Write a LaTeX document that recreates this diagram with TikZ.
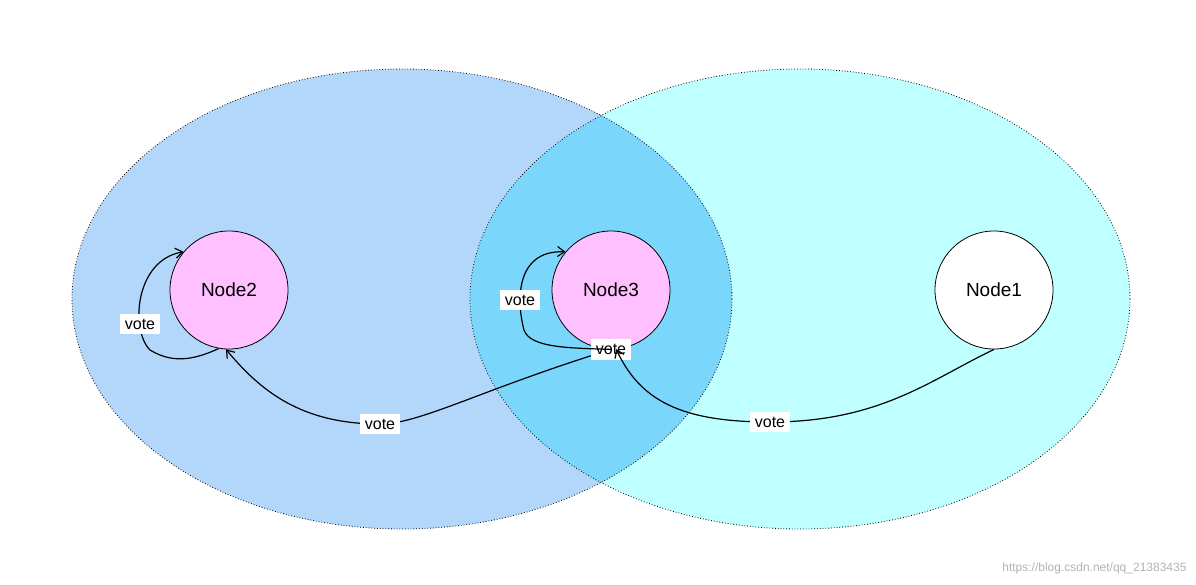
\documentclass[tikz,border=0pt]{standalone}
\usepackage{fontspec}
\setmainfont{Liberation Sans}
\usetikzlibrary{arrows.meta}
\definecolor{lblue}{HTML}{B3D7FB}
\definecolor{lcyan}{HTML}{C0FFFF}
\definecolor{mblue}{HTML}{7AD7FB}
\definecolor{pinkn}{HTML}{FFC0FF}
\tikzset{
 node/.style={circle,draw,thick,minimum size=118pt,inner sep=0pt,font=\fontsize{19}{22}\selectfont},
 lab/.style={fill=white,inner sep=5pt,font=\fontsize{16}{19}\selectfont},
 edge/.style={very thick,-{Straight Barb[length=7pt,width=10pt]}},
 reg/.style={draw,dotted,thick}
}
\begin{document}
\begin{tikzpicture}[x=1pt,y=-1pt]
\useasboundingbox (0,0) rectangle (1196,584);
\fill[lblue] (402,299) ellipse [x radius=330,y radius=230];
\fill[lcyan] (800,299) ellipse [x radius=330,y radius=230];
\begin{scope}
\clip (402,299) ellipse [x radius=330,y radius=230];
\fill[mblue] (800,299) ellipse [x radius=330,y radius=230];
\end{scope}
\draw[reg] (402,299) ellipse [x radius=330,y radius=230];
\draw[reg] (800,299) ellipse [x radius=330,y radius=230];
\node[node,fill=pinkn] (n2) at (229,290) {Node2};
\node[node,fill=pinkn] (n3) at (611,290) {Node3};
\node[node,fill=white] (n1) at (994,290) {Node1};
\draw[edge] (n3.-90) .. controls (480,390) and (420,424) .. (380,424) node[lab,pos=0] {vote}
 .. controls (300,424) and (260,390) .. (n2.-93);
\path (380,424) node[lab] {vote};
\draw[edge] (n1.-90) .. controls (930,380) and (880,422) .. (770,422)
 .. controls (680,422) and (640,400) .. (n3.-85);
\path (770,422) node[lab] {vote};
\draw[edge] (n2.-100) .. controls (190,362) and (170,362) .. (150,350)
 .. controls (130,330) and (135,260) .. (n2.140);
\path (140,324) node[lab] {vote};
\draw[edge] (n3.-90) .. controls (570,348) and (530,348) .. (524,330)
 .. controls (516,300) and (516,250) .. (n3.140);
\path (520,300) node[lab] {vote};
\node[text=gray!60,font=\fontsize{12}{14}\selectfont,anchor=south east] (wm) at (1190,578) {https://blog.csdn.net/qq\_21383435};
\end{tikzpicture}
\end{document}
